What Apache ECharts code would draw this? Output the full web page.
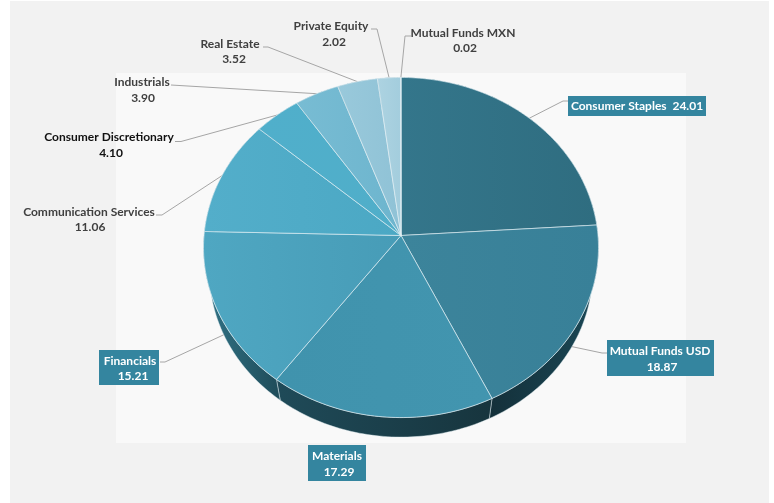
<!DOCTYPE html>
<html><head><meta charset="utf-8">
<style>html,body{margin:0;padding:0;background:#fff}#c{width:774px;height:503px}</style>
<script src="https://cdn.jsdelivr.net/npm/echarts@6/dist/echarts.min.js"></script>
</head><body><div id="c"></div>
<script>
const categories = ['Consumer Staples','Mutual Funds USD','Materials','Financials','Communication Services','Consumer Discretionary','Industrials','Real Estate','Private Equity','Mutual Funds MXN'];
const values = [24.01,18.87,17.29,15.21,11.06,4.10,3.90,3.52,2.02,0.02];

const topColors = [['#34768b','#2f6d80'],['#3c849b','#388098'],['#4093ad','#4295af'],['#4fa7c2','#479cb7'],['#53aeca','#4ba8c4'],['#50afcb','#50aec9'],['#78bcd3','#6db5ce'],['#99c9db','#8fc2d6'],['#add3e1','#a3cddd'],['#bcdbe6','#bcdbe6']];
const sideColors = [['#2a6070','#2a6070'],['#14303a','#1a4654'],['#1f4a58','#17353e'],['#307083','#1f4c59'],['#307083','#307083'],['#307083','#307083'],['#307083','#307083'],['#307083','#307083'],['#307083','#307083'],['#307083','#307083']];
// label layout per category: name centre, value centre, optional box, leader elbow points
const layout = [
  {one:[637,106],box:[568,96,138,20],elbow:[[563,101],[568,101]],front:false},
  {name:[660,351],val:[662,367],box:[607,340,107,36],elbow:[[602,353],[608,353]],front:true},
  {name:[337,456],val:[339,472],box:[308,445,58,36],elbow:null,front:true},
  {name:[130,361],val:[133,376],box:[99,350,60,35],elbow:[[165,362],[160,362]],front:true},
  {name:[89,212],val:[90,227],elbow:[[162,215],[156,215]],front:false},
  {name:[109,137],val:[111,153],elbow:[[181,141.5],[175,141.5]],front:false,dark:true},
  {name:[142,82],val:[143,98],elbow:[[171,85]],front:false},
  {name:[230,44],val:[234,59],elbow:[[268,47],[263,47]],front:false},
  {name:[331,26],val:[334,42],elbow:[[377,29],[371,29]],front:false},
  {name:[463,33],val:[465,48],elbow:[[405,36],[411,36]],front:false}
];
const cx=401, cy=235.5, a=169.2, b=197, k=0.0706;
const total = values.reduce((s,v)=>s+v,0);
const cum = []; values.reduce((s,v,i)=>{cum[i]=s;return s+v;},0);

function project(theta){
  const X=Math.sin(theta), Y=-Math.cos(theta), w=1-k*Y;
  return [cx+b*X/w, cy+a*Y/w];
}
function lower(p){ return [cx+0.97*(p[0]-cx), cy+0.97*(p[1]-cy)+25]; }
function rim(i){
  const s=cum[i]/total*2*Math.PI, e=(cum[i]+values[i])/total*2*Math.PI;
  const n=Math.max(2,Math.ceil((e-s)/0.02)), pts=[];
  for(let j=0;j<=n;j++) pts.push(project(s+(e-s)*j/n));
  return pts;
}
function grad(cols,pts){
  const xs=pts.map(p=>p[0]), x0=Math.min(...xs), x1=Math.max(...xs);
  return new echarts.graphic.LinearGradient(x0,0,Math.max(x1,x0+1),0,[{offset:0,color:cols[0]},{offset:1,color:cols[1]}],true);
}
const data = values.map((v,i)=>({name:categories[i],value:[i,v]}));
const font='bold 12px Lato';

const option = {
  animation:false,
  graphic:[
    {type:'rect',z:0,shape:{x:10,y:1,width:759,height:502},style:{fill:'#f2f2f2'}},
    {type:'rect',z:0,shape:{x:116,y:73,width:570,height:370},style:{fill:'#f9f9f9'}}
  ],
  series:[
    {type:'custom',name:'sides',coordinateSystem:'none',z:2,silent:true,data,
     renderItem(p,api){
       const i=api.value(0), r=rim(i), low=r.map(lower);
       const poly=r.concat(low.slice().reverse());
       return {type:'polygon',shape:{points:poly},
         style:{fill:grad(sideColors[i],low),stroke:'rgba(225,238,242,0.65)',lineWidth:0.7}};
     }},
    {type:'custom',name:'leaders',coordinateSystem:'none',z:3,silent:true,data,
     renderItem(p,api){
       const i=api.value(0), L=layout[i];
       if(!L.elbow) return {type:'group',children:[]};
       const m=project((cum[i]+values[i]/2)/total*2*Math.PI);
       const start=L.front?lower(m):m;
       return {type:'polyline',shape:{points:[start].concat(L.elbow)},
         style:{fill:null,stroke:'#a6a6a6',lineWidth:1}};
     }},
    {type:'custom',name:'tops',coordinateSystem:'none',z:4,silent:true,data,
     renderItem(p,api){
       const i=api.value(0), r=rim(i);
       return {type:'polygon',shape:{points:[[cx,cy]].concat(r)},
         style:{fill:grad(topColors[i],r.concat([[cx,cy]])),stroke:'rgba(226,240,244,0.8)',lineWidth:0.8,lineJoin:'round'}};
     }},
    {type:'custom',name:'labels',coordinateSystem:'none',z:5,silent:true,data,
     renderItem(p,api){
       const i=api.value(0), L=layout[i], kids=[], v=values[i].toFixed(2);
       const col=L.box?'#ffffff':(L.dark?'#111111':'#404040');
       if(L.box) kids.push({type:'rect',shape:{x:L.box[0],y:L.box[1],width:L.box[2],height:L.box[3]},style:{fill:'#34859f'}});
       const t=(s,at)=>({type:'text',style:{text:s,x:at[0],y:at[1],fill:col,font,align:'center',verticalAlign:'middle'}});
       if(L.one) kids.push(t(categories[i]+'  '+v,L.one));
       else { kids.push(t(categories[i],L.name)); kids.push(t(v,L.val)); }
       return {type:'group',children:kids};
     }}
  ]
};
echarts.init(document.getElementById('c'),null,{renderer:'canvas'}).setOption(option);
</script></body></html>
